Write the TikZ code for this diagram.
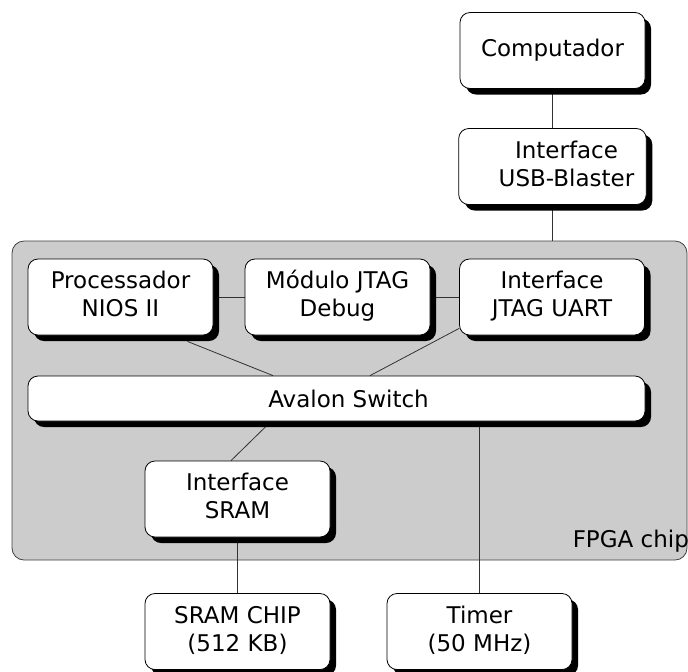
\documentclass[tikz,border=0pt]{standalone}
\usepackage{fontspec}
\setmainfont{DejaVu Sans}
\usetikzlibrary{shadows,backgrounds}

\begin{document}
\begin{tikzpicture}[x=0.5pt,y=-0.5pt,
font=\fontsize{11.5}{14}\selectfont,
block/.style={rectangle,rounded corners=5pt,draw=black,fill=white,thin,inner sep=0pt,minimum width=92.5pt,minimum height=38pt,drop shadow={fill=black,opacity=1,shadow xshift=3pt,shadow yshift=-3pt}},
bar/.style={block,minimum width=308.5pt,minimum height=22.5pt},
wire/.style={draw=black!80,thin},
chip/.style={draw=black!75,fill=black!20,thin,rounded corners=6pt}]

\useasboundingbox (0,0) rectangle (688,671);

\node (COMP) at (552.5,50.5) [block] {Computador};
\node (USB) at (552.5,166.5) [block] {\hspace*{14pt}\begin{tabular}{c}
Interface \\
USB-Blaster
\end{tabular}};

\node (NIOS) at (120.5,297) [block] {\begin{tabular}{c}
Processador \\
NIOS II
\end{tabular}};
\node (DBG) at (337.5,297) [block] {\begin{tabular}{c}
Módulo JTAG \\
Debug
\end{tabular}};
\node (UART) at (552,297) [block] {\begin{tabular}{c}
Interface \\
JTAG UART
\end{tabular}};

\node (AVALON) at (336.5,398.5) [bar] {\hspace*{12pt}Avalon Switch};

\node (SRAMIF) at (237.5,499) [block] {\begin{tabular}{c}
Interface \\
SRAM
\end{tabular}};

\node (SRAMCHIP) at (237.5,631.5) [block] {\begin{tabular}{c}
SRAM CHIP \\
(512 KB)
\end{tabular}};
\node (TIMER) at (479.5,631.5) [block] {\begin{tabular}{c}
Timer \\
(50 MHz)
\end{tabular}};

\node (FPGALBL) at (696,547) [anchor=base east] {FPGA chip};
\coordinate (FPGATOP) at (552.5,241);

% chip area and wires go behind the blocks
\begin{scope}[on background layer]
\draw[chip] (12,241) rectangle (687,560);
\draw[wire] (COMP) -- (USB);
\draw[wire] (USB) -- (FPGATOP);
\draw[wire] (NIOS) -- (DBG);
\draw[wire] (DBG) -- (UART);
\draw[wire] ([xshift=-13pt,yshift=-3pt]NIOS.south east) -- ([xshift=-31.75pt]AVALON.north);
\draw[wire] ([yshift=3.5pt]UART.south west) -- ([xshift=16.75pt]AVALON.north);
\draw[wire] ([xshift=-34.75pt,yshift=-2pt]AVALON.south) -- ([xshift=-3.25pt]SRAMIF.north);
\draw[wire] (SRAMIF) -- (SRAMCHIP);
\draw[wire] (TIMER) -- (TIMER |- AVALON);
\end{scope}

\end{tikzpicture}
\end{document}
